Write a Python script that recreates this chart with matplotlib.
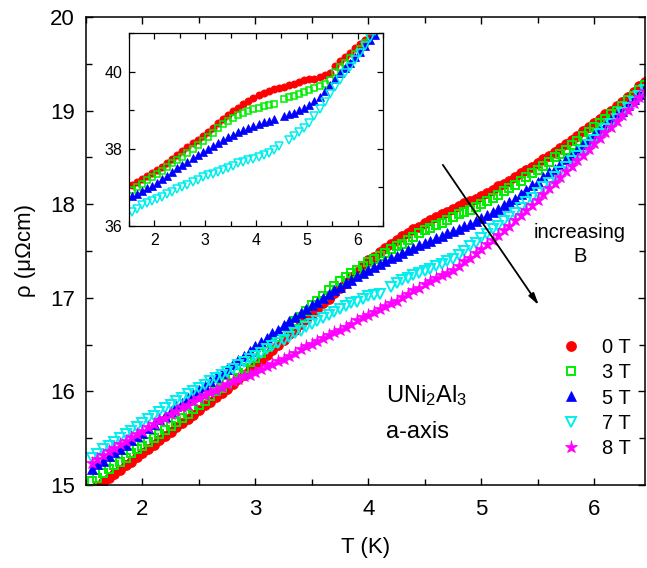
import numpy as np
import matplotlib
matplotlib.use("Agg")
import matplotlib.pyplot as plt
from matplotlib.ticker import MultipleLocator

plt.rcParams['font.family'] = ['Liberation Sans', 'DejaVu Sans']
plt.rcParams['mathtext.fontset'] = 'custom'
plt.rcParams['mathtext.rm'] = 'Liberation Sans'
plt.rcParams['mathtext.it'] = 'Liberation Sans'

# ---------------- main panel data ----------------
T_main = [1.55, 1.60, 1.65, 1.70, 1.75, 1.80, 1.85, 1.90, 1.95, 2.00,
          2.05, 2.10, 2.15, 2.20, 2.25, 2.30, 2.35, 2.40, 2.45, 2.50,
          2.55, 2.60, 2.65, 2.70, 2.75, 2.80, 2.85, 2.90, 2.95, 3.00,
          3.05, 3.10, 3.15, 3.20, 3.25, 3.30, 3.35, 3.40, 3.45, 3.50,
          3.55, 3.60, 3.65, 3.70, 3.75, 3.80, 3.85, 3.90, 3.95, 4.00,
          4.05, 4.10, 4.15, 4.20, 4.25, 4.30, 4.35, 4.40, 4.45, 4.50,
          4.55, 4.60, 4.65, 4.70, 4.75, 4.80, 4.85, 4.90, 4.95, 5.00,
          5.05, 5.10, 5.15, 5.20, 5.25, 5.30, 5.35, 5.40, 5.45, 5.50,
          5.55, 5.60, 5.65, 5.70, 5.75, 5.80, 5.85, 5.90, 5.95, 6.00,
          6.05, 6.10, 6.15, 6.20, 6.25, 6.30, 6.35, 6.40, 6.45]

rho_0T = [14.94, 14.99, 15.03, 15.08, 15.12, 15.16, 15.21, 15.25, 15.30, 15.34,
          15.39, 15.43, 15.48, 15.52, 15.57, 15.62, 15.66, 15.71, 15.75, 15.80,
          15.85, 15.89, 15.94, 15.98, 16.03, 16.08, 16.13, 16.18, 16.23, 16.28,
          16.33, 16.39, 16.44, 16.50, 16.55, 16.61, 16.66, 16.72, 16.77, 16.83,
          16.88, 16.94, 16.99, 17.05, 17.10, 17.16, 17.22, 17.28, 17.34, 17.40,
          17.44, 17.49, 17.53, 17.58, 17.62, 17.66, 17.69, 17.73, 17.76, 17.80,
          17.83, 17.86, 17.89, 17.92, 17.95, 17.98, 18.01, 18.03, 18.06, 18.09,
          18.12, 18.15, 18.19, 18.22, 18.25, 18.29, 18.33, 18.36, 18.40, 18.44,
          18.48, 18.52, 18.56, 18.60, 18.64, 18.69, 18.73, 18.78, 18.82, 18.87,
          18.91, 18.96, 19.00, 19.05, 19.09, 19.15, 19.20, 19.26, 19.31]

rho_3T = [15.04, 15.08, 15.13, 15.17, 15.21, 15.25, 15.29, 15.34, 15.38, 15.42,
          15.46, 15.50, 15.55, 15.59, 15.63, 15.67, 15.72, 15.76, 15.81, 15.85,
          15.90, 15.95, 16.00, 16.04, 16.09, 16.14, 16.20, 16.25, 16.31, 16.36,
          16.41, 16.47, 16.52, 16.58, 16.63, 16.69, 16.75, 16.80, 16.86, 16.92,
          16.97, 17.02, 17.08, 17.13, 17.18, 17.22, 17.26, 17.30, 17.34, 17.38,
          17.41, 17.45, 17.48, 17.52, 17.55, 17.58, 17.62, 17.65, 17.69, 17.72,
          17.75, 17.78, 17.80, 17.83, 17.86, 17.89, 17.92, 17.94, 17.97, 18.00,
          18.03, 18.07, 18.10, 18.14, 18.17, 18.21, 18.25, 18.29, 18.33, 18.37,
          18.41, 18.45, 18.50, 18.54, 18.58, 18.63, 18.68, 18.73, 18.77, 18.82,
          18.87, 18.91, 18.96, 19.00, 19.05, 19.11, 19.16, 19.22, 19.27]

rho_5T = [15.17, 15.22, 15.26, 15.31, 15.35, 15.39, 15.43, 15.48, 15.52, 15.56,
          15.61, 15.65, 15.70, 15.74, 15.79, 15.84, 15.88, 15.93, 15.97, 16.02,
          16.06, 16.11, 16.15, 16.20, 16.24, 16.29, 16.34, 16.38, 16.43, 16.48,
          16.53, 16.57, 16.62, 16.66, 16.71, 16.75, 16.79, 16.84, 16.88, 16.92,
          16.96, 17.00, 17.04, 17.08, 17.12, 17.16, 17.19, 17.23, 17.26, 17.30,
          17.33, 17.36, 17.39, 17.42, 17.45, 17.48, 17.51, 17.53, 17.56, 17.59,
          17.61, 17.64, 17.66, 17.69, 17.71, 17.74, 17.77, 17.79, 17.82, 17.85,
          17.88, 17.92, 17.95, 17.99, 18.02, 18.06, 18.11, 18.15, 18.20, 18.24,
          18.29, 18.34, 18.38, 18.43, 18.48, 18.53, 18.58, 18.64, 18.69, 18.74,
          18.79, 18.84, 18.90, 18.95, 19.00, 19.06, 19.12, 19.18, 19.24]

rho_7T = [15.29, 15.33, 15.38, 15.42, 15.46, 15.50, 15.54, 15.58, 15.62, 15.66,
          15.70, 15.74, 15.78, 15.82, 15.86, 15.90, 15.93, 15.97, 16.00, 16.04,
          16.07, 16.11, 16.14, 16.18, 16.21, 16.24, 16.28, 16.31, 16.35, 16.38,
          16.41, 16.45, 16.48, 16.52, 16.55, 16.58, 16.62, 16.65, 16.69, 16.72,
          16.75, 16.78, 16.82, 16.85, 16.88, 16.91, 16.94, 16.96, 16.99, 17.02,
          17.03, 17.04, np.nan, 17.12, 17.16, 17.19, 17.21, 17.24, 17.26, 17.29,
          17.31, 17.34, 17.36, 17.39, 17.41, 17.46, 17.50, 17.55, 17.59, 17.64,
          17.68, 17.73, 17.77, 17.82, 17.86, 17.91, 17.96, 18.02, 18.07, 18.12,
          18.18, 18.23, 18.29, 18.34, 18.40, 18.46, 18.52, 18.57, 18.63, 18.69,
          18.75, 18.80, 18.86, 18.91, 18.97, 19.03, 19.09, 19.16, 19.22]

rho_8T = [15.24, 15.28, 15.32, 15.36, 15.40, 15.44, 15.47, 15.51, 15.54, 15.58,
          15.62, 15.65, 15.69, 15.72, 15.76, 15.79, 15.83, 15.86, 15.90, 15.93,
          15.96, 15.99, 16.02, 16.05, 16.08, 16.11, 16.13, 16.16, 16.18, 16.21,
          16.24, 16.27, 16.29, 16.32, 16.35, 16.38, 16.41, 16.45, 16.48, 16.51,
          16.54, 16.57, 16.60, 16.63, 16.66, 16.69, 16.72, 16.76, 16.79, 16.82,
          16.85, 16.88, 16.91, 16.94, 16.97, 17.01, 17.04, 17.08, 17.11, 17.15,
          17.18, 17.21, 17.24, 17.27, 17.30, 17.34, 17.39, 17.43, 17.48, 17.52,
          17.57, 17.62, 17.67, 17.72, 17.77, 17.83, 17.88, 17.94, 17.99, 18.05,
          18.11, 18.17, 18.23, 18.29, 18.35, 18.41, 18.47, 18.53, 18.59, 18.65,
          18.71, 18.77, 18.83, 18.89, 18.95, 19.01, 19.08, 19.14, 19.21]

# ---------------- inset data ----------------
T_inset = [1.55, 1.65, 1.75, 1.85, 1.95, 2.05, 2.15, 2.25, 2.35, 2.45,
           2.55, 2.65, 2.75, 2.85, 2.95, 3.05, 3.15, 3.25, 3.35, 3.45,
           3.55, 3.65, 3.75, 3.85, 3.95, 4.05, 4.15, 4.25, 4.35, 4.45,
           4.55, 4.65, 4.75, 4.85, 4.95, 5.05, 5.15, 5.25, 5.35, 5.45,
           5.55, 5.65, 5.75, 5.85, 5.95, 6.05, 6.15, 6.25, 6.35]

ins_0T = [37.05, 37.13, 37.21, 37.29, 37.37, 37.45, 37.54, 37.64, 37.74, 37.84,
          37.94, 38.04, 38.14, 38.24, 38.34, 38.44, 38.55, 38.66, 38.76, 38.87,
          38.97, 39.07, 39.16, 39.24, 39.32, 39.39, 39.45, 39.50, 39.54, 39.58,
          39.61, 39.64, 39.68, 39.72, 39.77, 39.80, 39.82, 39.86, 39.90, 39.96,
          40.14, 40.27, 40.38, 40.49, 40.60, 40.71, 40.83, 40.96, 41.08]

ins_3T = [36.94, 37.02, 37.10, 37.18, 37.26, 37.34, 37.43, 37.52, 37.62, 37.71,
          37.80, 37.89, 37.99, 38.10, 38.21, 38.31, 38.42, 38.53, 38.63, 38.71,
          38.79, 38.87, 38.93, 38.98, 39.03, 39.07, 39.11, 39.14, 39.17, np.nan,
          39.30, 39.34, 39.38, 39.43, 39.48, 39.53, 39.58, 39.63, 39.69, 39.78,
          39.98, 40.11, 40.23, 40.34, 40.45, 40.58, 40.74, 40.91, 41.05]

ins_5T = [36.77, 36.84, 36.91, 36.98, 37.04, 37.12, 37.21, 37.30, 37.40, 37.49,
          37.58, 37.67, 37.76, 37.84, 37.92, 37.99, 38.07, 38.15, 38.23, 38.30,
          38.37, 38.43, 38.49, 38.54, 38.60, 38.65, 38.69, 38.73, 38.76, np.nan,
          38.84, 38.89, 38.94, 39.00, 39.06, 39.14, 39.24, 39.35, 39.50, 39.65,
          39.81, 39.96, 40.09, 40.22, 40.37, 40.52, 40.67, 40.83, 40.96]

ins_7T = [36.35, 36.45, 36.55, 36.60, 36.64, 36.70, 36.76, 36.82, 36.88, 36.95,
          37.01, 37.07, 37.14, 37.20, 37.26, 37.31, 37.36, 37.41, 37.45, 37.51,
          37.56, 37.62, 37.66, 37.70, 37.74, 37.78, 37.83, 37.88, 37.96, 38.06,
          np.nan, 38.22, 38.32, 38.43, 38.55, 38.68, 38.86, 39.03, 39.21, 39.41,
          39.60, 39.78, 39.96, 40.13, 40.31, 40.49, 40.67, 40.86, 41.04]

labels = ['0 T', '3 T', '5 T', '7 T', '8 T']

# ---------------- figure ----------------
fig = plt.figure(figsize=(6.47, 5.68), dpi=100)
ax = fig.add_axes([0.1329, 0.1461, 0.864, 0.824])

styles = [
    dict(marker='o', color='#ff0000', mfc='#ff0000', mec='#ff0000', ms=7.2, mew=0.5),
    dict(marker='s', color='#00ee00', mfc='none', mec='#00ee00', ms=5.8, mew=1.4),
    dict(marker='^', color='#0000ff', mfc='#0000ff', mec='#0000ff', ms=7.5, mew=0.5),
    dict(marker='v', color='#00ffff', mfc='none', mec='#00eeee', ms=7.0, mew=1.4),
    dict(marker='*', color='#ff00ff', mfc='#ff00ff', mec='#ff00ff', ms=9.5, mew=0.5),
]
series = [rho_0T, rho_3T, rho_5T, rho_7T, rho_8T]
for vals, st, lab in zip(series, styles, labels):
    ax.plot(T_main, vals, linestyle='none', label=lab, **st)

ax.set_xlim(1.5, 6.45)
ax.set_ylim(15, 20)
ax.xaxis.set_major_locator(MultipleLocator(1))
ax.xaxis.set_minor_locator(MultipleLocator(0.5))
ax.yaxis.set_major_locator(MultipleLocator(1))
ax.yaxis.set_minor_locator(MultipleLocator(0.5))
ax.tick_params(which='both', direction='in', top=True, right=True, width=1.0)
ax.tick_params(which='major', length=5, labelsize=16, pad=8)
ax.tick_params(axis='x', which='major', pad=10)
ax.tick_params(which='minor', length=4)
for s in ax.spines.values():
    s.set_linewidth(1.1)
ax.set_xlabel('T (K)', fontsize=16, labelpad=12)
ax.set_ylabel('ρ (μΩcm)', fontsize=16, labelpad=10)

leg = ax.legend(loc='upper left', bbox_to_anchor=(0.825, 0.345), frameon=False,
                fontsize=14.5, handlelength=1.0, handletextpad=1.0,
                labelspacing=0.32, numpoints=1, borderpad=0.2)

ax.text(4.16, 15.96, 'UNi$_2$Al$_3$', fontsize=17, va='center', ha='left')
ax.text(4.16, 15.57, 'a-axis', fontsize=17, va='center', ha='left')
ax.text(5.875, 17.70, 'increasing', fontsize=14.5, va='center', ha='center')
ax.text(5.875, 17.44, 'B', fontsize=14.5, va='center', ha='center')
ax.annotate('', xy=(5.51, 16.92), xytext=(4.66, 18.42),
            arrowprops=dict(arrowstyle='-|>,head_length=0.7,head_width=0.18',
                            color='k', lw=1.3, shrinkA=0, shrinkB=0))

# ---------------- inset ----------------
axi = fig.add_axes([0.1994, 0.6021, 0.3926, 0.3398])
istyles = [
    dict(marker='o', mfc='#ff0000', mec='#ff0000', ms=5.2, mew=0.5),
    dict(marker='s', mfc='none', mec='#00ee00', ms=4.2, mew=1.1),
    dict(marker='^', mfc='#0000ff', mec='#0000ff', ms=5.4, mew=0.5),
    dict(marker='v', mfc='none', mec='#00eeee', ms=5.4, mew=1.1),
]
for vals, st in zip([ins_0T, ins_3T, ins_5T, ins_7T], istyles):
    axi.plot(T_inset, vals, linestyle='none', **st)
axi.set_xlim(1.5, 6.5)
axi.set_ylim(36, 41)
axi.xaxis.set_major_locator(MultipleLocator(1))
axi.xaxis.set_minor_locator(MultipleLocator(0.5))
axi.yaxis.set_major_locator(MultipleLocator(2))
axi.yaxis.set_minor_locator(MultipleLocator(1))
axi.tick_params(which='both', direction='in', top=True, right=True, width=0.9)
axi.tick_params(which='major', length=4, labelsize=11.5, pad=5)
axi.tick_params(which='minor', length=3.5)
for s in axi.spines.values():
    s.set_linewidth(0.9)

fig.savefig('out.png', dpi=100)
